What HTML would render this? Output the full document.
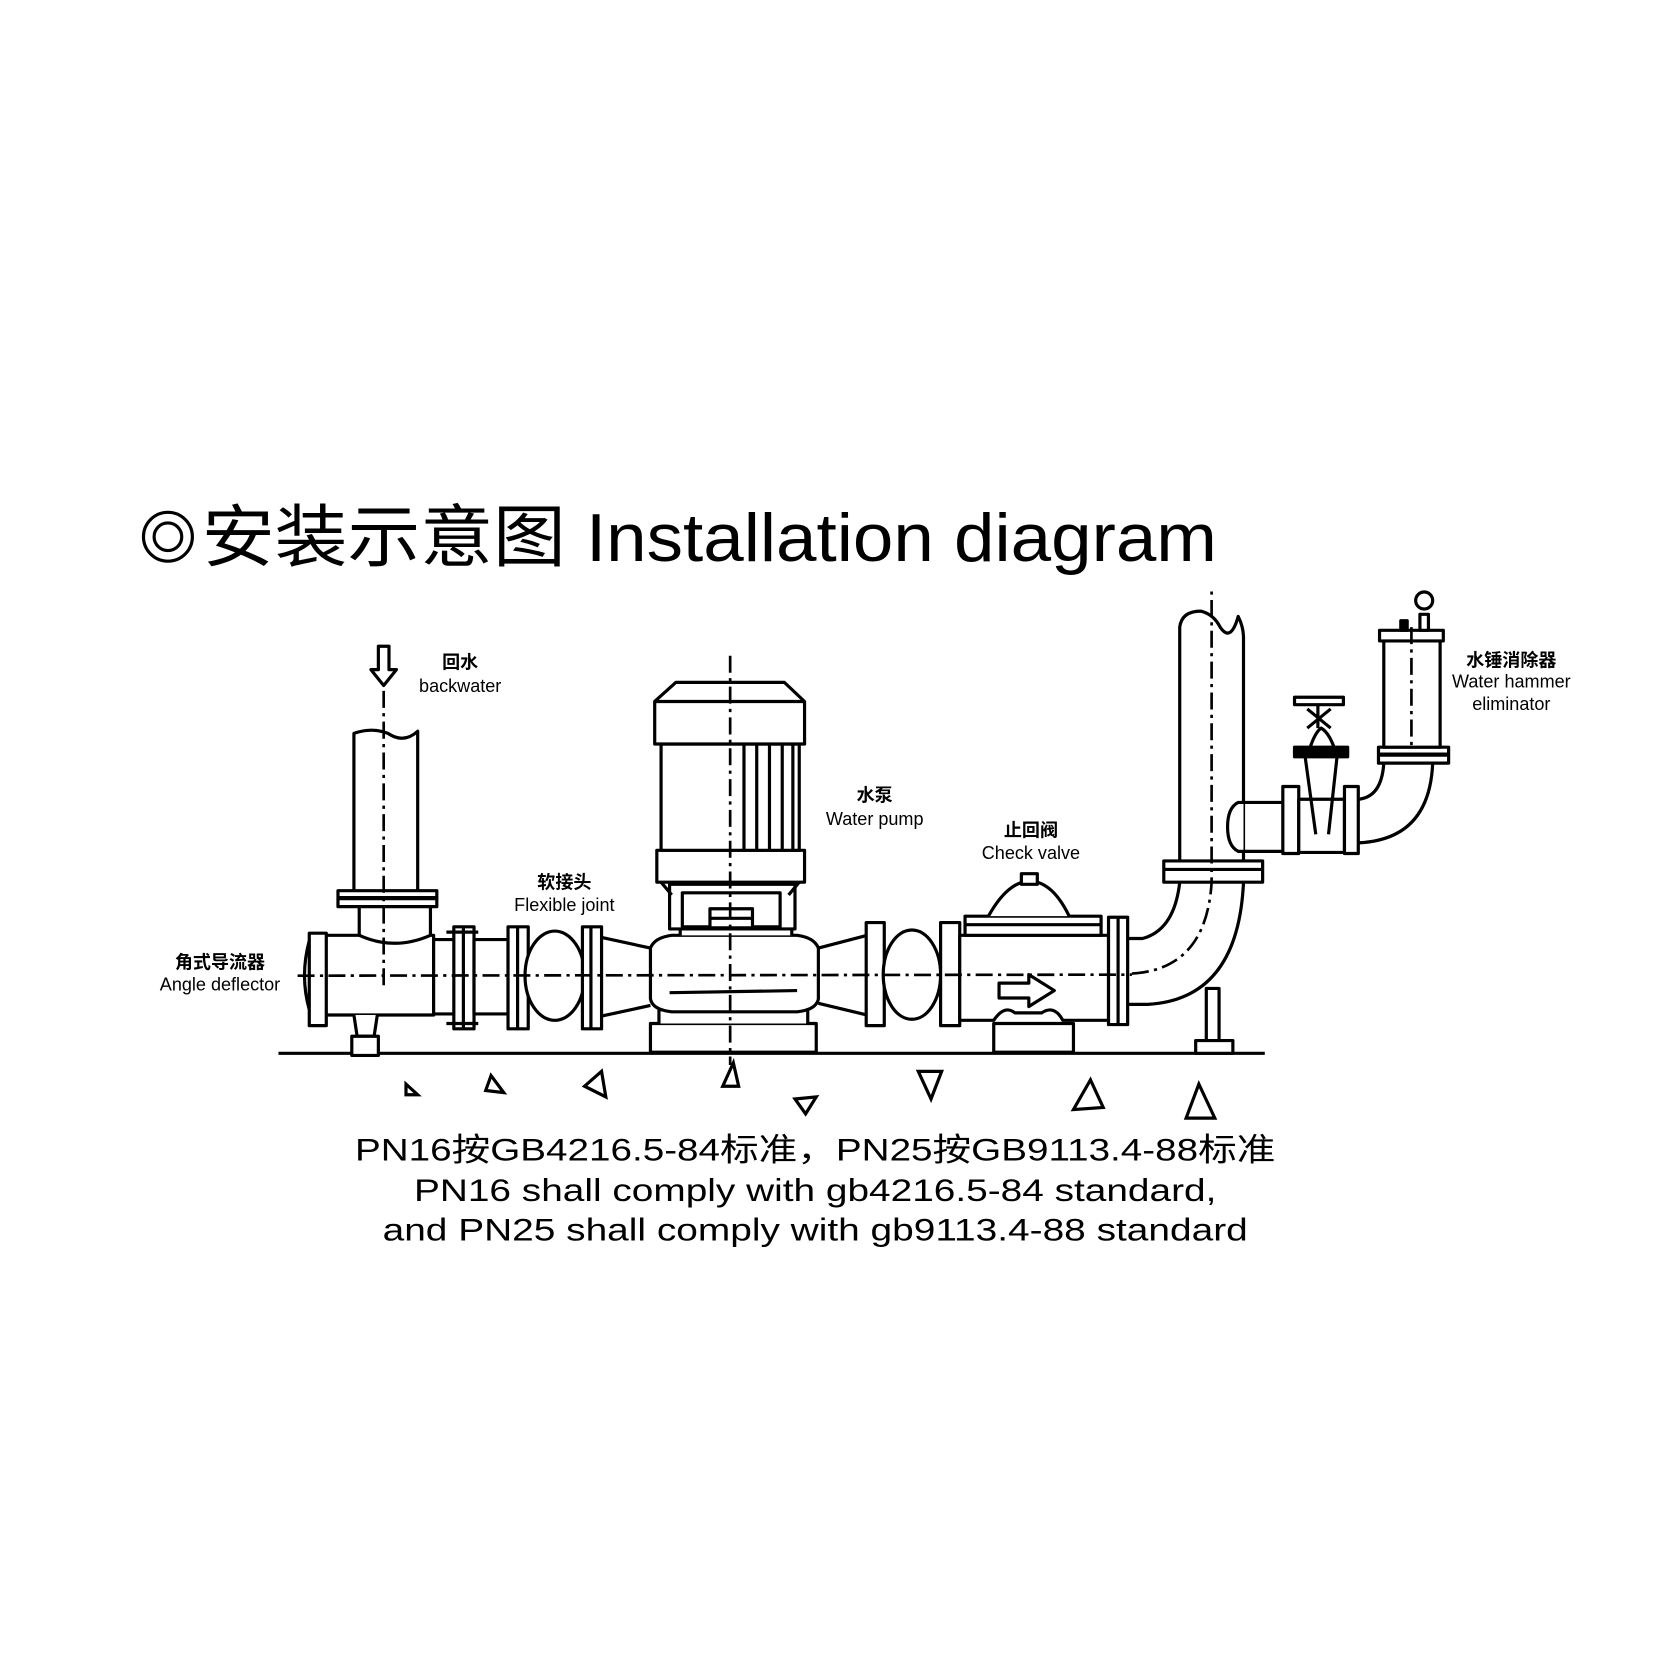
<!DOCTYPE html>
<html><head><meta charset="utf-8"><style>
html,body{margin:0;padding:0;background:#fff;}
svg{display:block;}
text{font-family:"Liberation Sans","Noto Sans CJK SC",sans-serif;fill:#000;}
</style></head><body>
<svg width="1658" height="1657" viewBox="0 0 1560 1559" xmlns="http://www.w3.org/2000/svg">
<g fill="none" stroke="#000" stroke-width="3">
<circle cx="158" cy="505" r="23" stroke-width="3"/>
<circle cx="158" cy="505" r="13" stroke-width="3"/>
</g>
<text x="190" y="528" font-size="64" textLength="955" lengthAdjust="spacingAndGlyphs">安装示意图 Installation diagram</text>

<g fill="#fff" stroke="#000" stroke-width="3" stroke-linejoin="round">
<line x1="262" y1="991" x2="1190" y2="991"/>
<path d="M356 608 H366 V630 H373 L361 645 L349 630 H356 Z" fill="#fff"/>
<path d="M333 838 V690 Q350 684 365 690 Q380 700 393 688 V838"/>
<rect x="318" y="838" width="93" height="15"/>
<line x1="318" y1="845" x2="411" y2="845" stroke-width="4"/>
<path d="M338 853 V882 M405 853 V882"/>
<path d="M307 880 H338 Q371 895 405 880 H408 V955 H307"/>
<path d="M291 885 Q282 918 291 950"/>
<rect x="291" y="878" width="16" height="87"/>
<path d="M333 955 L336 975 H352 L355 955"/>
<rect x="331" y="975" width="25" height="18"/>
<rect x="408" y="884" width="20" height="70"/>
<rect x="427" y="872" width="19" height="96"/>
<line x1="436" y1="872" x2="436" y2="968"/>
<line x1="420" y1="877" x2="450" y2="877"/>
<line x1="420" y1="963" x2="450" y2="963"/>
<rect x="446" y="884" width="32" height="70"/>
<rect x="478" y="872" width="19" height="96"/>
<line x1="487" y1="872" x2="487" y2="968"/>
<ellipse cx="522" cy="918" rx="28" ry="42"/>
<rect x="548" y="872" width="18" height="96"/>
<line x1="556" y1="872" x2="556" y2="968"/>
<path d="M566 882 L612 892 M566 956 L612 946"/>
<rect x="612" y="963" width="156" height="27"/>
<path d="M620 963 V950 H760 V963"/>
<path d="M612 892 Q616 882 632 880 H750 Q766 882 770 892 V940 Q768 950 750 952 H632 Q614 950 612 940 Z"/>
<line x1="630" y1="934" x2="750" y2="932"/>
<path d="M640 880 V872 H745 V880"/>
<rect x="630" y="832" width="118" height="42"/>
<rect x="642" y="840" width="92" height="32"/>
<rect x="668" y="855" width="40" height="18"/>
<line x1="668" y1="864" x2="708" y2="864"/>
<path d="M622 830 L632 842 M752 830 L742 842"/>
<rect x="618" y="800" width="139" height="30"/>
<rect x="622" y="700" width="130" height="100"/>
<g fill="none"><line x1="700" y1="700" x2="700" y2="800"/><line x1="712" y1="700" x2="712" y2="800"/><line x1="724" y1="700" x2="724" y2="800"/><line x1="736" y1="700" x2="736" y2="800"/><line x1="746" y1="700" x2="746" y2="800"/></g>
<path d="M616 660 L636 642 H738 L757 660 V700 H616 Z"/>
<line x1="616" y1="660" x2="757" y2="660"/>
<path d="M770 892 L816 880 M770 944 L816 955"/>
<rect x="815" y="868" width="17" height="97"/>
<ellipse cx="858" cy="917" rx="27" ry="42"/>
<rect x="885" y="868" width="18" height="97"/>
<path d="M903 880 H1043 V960 H1000 Q992 945 980 953 H955 Q945 945 935 960 H903 Z"/>
<rect x="935" y="963" width="75" height="27"/>
<rect x="908" y="862" width="128" height="18"/>
<line x1="908" y1="870" x2="1036" y2="870"/>
<path d="M930 862 Q945 835 962 830 H976 Q993 835 1006 862"/>
<rect x="961" y="822" width="15" height="10"/>
<path d="M940 925 H968 V917 L992 932 L968 947 V939 H940 Z"/>
<rect x="1043" y="863" width="18" height="101"/>
<line x1="1052" y1="863" x2="1052" y2="964"/>
<rect x="1135" y="930" width="12" height="50"/>
<rect x="1125" y="979" width="35" height="12"/>
<path d="M1061 883 H1075 Q1105 875 1110 830 M1061 945 H1080 Q1165 940 1170 830"/>
<path d="M1110 810 V590 Q1112 575 1130 575 Q1142 578 1148 590 Q1158 605 1165 580 Q1170 590 1170 600 V810"/>
<rect x="1095" y="810" width="93" height="20"/>
<line x1="1095" y1="818" x2="1188" y2="818"/>
<path d="M1170 755 H1165 Q1155 760 1155 778 Q1155 796 1165 801 H1170 M1170 755 H1207 M1170 801 H1207"/>
<rect x="1207" y="740" width="15" height="63"/>
<rect x="1222" y="752" width="43" height="50"/>
<path d="M1228 712 L1238 785 M1258 712 L1250 785 M1230 712 Q1236 690 1243 685 Q1252 690 1258 712"/>
<rect x="1218" y="703" width="50" height="9" fill="#000"/>
<path d="M1240 685 V656 M1230 667 L1252 685 M1252 667 L1230 685"/>
<rect x="1218" y="656" width="46" height="7"/>
<rect x="1265" y="740" width="13" height="63"/>
<path d="M1278 752 Q1300 750 1302 718 M1278 793 Q1345 790 1348 718"/>
<rect x="1297" y="703" width="66" height="15"/>
<line x1="1297" y1="710" x2="1363" y2="710" stroke-width="4"/>
<rect x="1302" y="603" width="53" height="100"/>
<rect x="1298" y="593" width="60" height="10"/>
<rect x="1318" y="584" width="6" height="9" fill="#000"/>
<rect x="1336" y="578" width="8" height="15"/>
<circle cx="1340" cy="565" r="8"/>
</g>
<g fill="none" stroke="#000" stroke-width="2.5" stroke-dasharray="16,5,3,5">
<line x1="280" y1="918" x2="1065" y2="917"/>
<line x1="361" y1="650" x2="361" y2="930"/>
<line x1="687" y1="617" x2="687" y2="1002"/>
<path d="M1065 916 Q1135 912 1140 830 V552"/>
<line x1="1328" y1="590" x2="1328" y2="705"/>
</g>
<g fill="none" stroke="#000" stroke-width="3" stroke-linejoin="miter">
<path d="M382 1020 L382 1030 L393 1030 Z"/>
<path d="M462 1012 L457 1026 L474 1028 Z"/>
<path d="M566 1008 L550 1022 L570 1032 Z"/>
<path d="M690 1000 L680 1022 L695 1022 Z"/>
<path d="M748 1034 L768 1032 L758 1048 Z"/>
<path d="M864 1008 L886 1008 L876 1034 Z"/>
<path d="M1026 1016 L1010 1044 L1038 1042 Z"/>
<path d="M1128 1020 L1116 1052 L1143 1052 Z"/>
</g>
<g font-size="17" text-anchor="middle">
<text x="433" y="629" font-weight="bold">回水</text>
<text x="433" y="651">backwater</text>
<text x="531" y="836" font-weight="bold">软接头</text>
<text x="531" y="857">Flexible joint</text>
<text x="207" y="911" font-weight="bold">角式导流器</text>
<text x="207" y="932">Angle deflector</text>
<text x="823" y="754" font-weight="bold">水泵</text>
<text x="823" y="776">Water pump</text>
<text x="970" y="787" font-weight="bold">止回阀</text>
<text x="970" y="808">Check valve</text>
<text x="1422" y="627" font-weight="bold">水锤消除器</text>
<text x="1422" y="647">Water hammer</text>
<text x="1422" y="668">eliminator</text>
</g>
<g font-size="30" text-anchor="middle">
<text x="767" y="1092" textLength="866" lengthAdjust="spacingAndGlyphs">PN16按GB4216.5-84标准，PN25按GB9113.4-88标准</text>
<text x="767" y="1130" textLength="755" lengthAdjust="spacingAndGlyphs">PN16 shall comply with gb4216.5-84 standard,</text>
<text x="767" y="1167" textLength="814" lengthAdjust="spacingAndGlyphs">and PN25 shall comply with gb9113.4-88 standard</text>
</g>
</svg>
</body></html>
